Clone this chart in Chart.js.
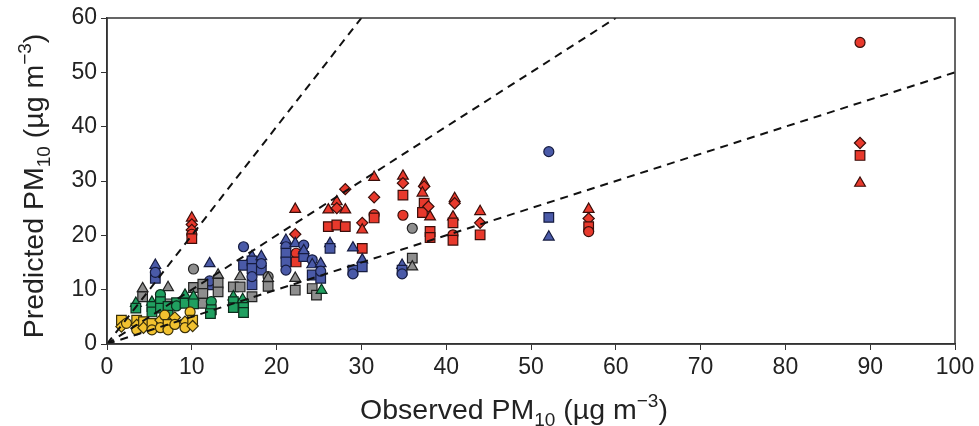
<!DOCTYPE html>
<html>
<head>
<meta charset="utf-8">
<script src="https://cdn.jsdelivr.net/npm/chart.js@4"></script>
<style>
  html, body { margin: 0; padding: 0; background: #fff; }
  #wrap { width: 979px; height: 426px; }
</style>
</head>
<body>
<div id="wrap"><canvas id="chart" width="979" height="426"></canvas></div>
<script>
// shape codes: c = circle, t = triangle, s = square, d = diamond
const redX = [10, 10, 10, 10, 10, 22.2, 22.2, 22.3, 22.3, 26.1, 26.1, 27.1, 27.1, 27.1, 28.1, 28.1, 28.1,
  30.1, 30.1, 30.1, 31.5, 31.5, 31.5, 31.5, 34.9, 34.9, 34.9, 34.9, 37.4, 37.4, 37.2, 37.4, 37.2, 37.9, 38.1,
  38.1, 38.1, 41, 41, 40.8, 40.8, 40.8, 40.8, 44, 44, 44, 56.8, 56.8, 56.8, 56.8, 88.8, 88.8, 88.8, 88.8];
const redY = [23.2, 22.0, 21.0, 20.2, 19.4, 24.8, 20.2, 16.7, 15.1, 24.7, 21.6, 26.2, 25.0, 21.9, 28.5, 24.7, 21.6,
  22.3, 21.0, 17.6, 30.7, 27.0, 23.8, 23.2, 30.9, 29.6, 27.4, 23.7, 29.6, 29.0, 27.8, 25.9, 24.2, 25.3, 23.4,
  20.7, 19.6, 26.8, 25.9, 23.4, 22.3, 20.1, 19.1, 24.4, 22.3, 20.1, 24.8, 23.1, 21.6, 20.7, 55.5, 37.0, 34.7, 29.6];
const redShape = ['t', 'd', 'd', 'c', 's', 't', 'd', 'c', 's', 't', 's', 't', 'd', 's', 'd', 't', 's',
  'd', 't', 's', 't', 'd', 'c', 's', 't', 'd', 's', 'c', 't', 'd', 't', 's', 's', 'd', 't',
  's', 's', 't', 'd', 't', 's', 'c', 's', 't', 'd', 's', 't', 'd', 's', 'c', 'c', 'd', 's', 't'];

const blueX = [5.7, 5.7, 5.7, 12.1, 12.1, 12.1, 16.1, 16.1, 17.1, 17.1, 17.1, 17.1, 17.1, 18.2, 18.2, 18.2,
  21.1, 21.1, 21.1, 21.1, 21.1, 22.2, 23.2, 23.2, 23.2, 24.2, 24.2, 24.2, 25.2, 25.2, 25.2, 26.3, 26.3,
  29.0, 29.0, 29.0, 30.1, 30.1, 34.8, 34.8, 34.8, 52.1, 52.1, 52.1];
const blueY = [14.5, 12.1, 13.2, 14.8, 10.9, 11.6, 17.9, 14.5, 16.1, 15.3, 13.9, 10.9, 12.4, 16.1, 13.6, 14.8,
  19.1, 17.9, 16.7, 15.1, 13.6, 18.5, 18.2, 16.1, 17.2, 15.5, 12.7, 14.6, 14.8, 12.1, 13.4, 18.5, 17.6,
  17.7, 13.6, 12.9, 15.5, 14.2, 14.5, 13.6, 12.9, 35.4, 23.3, 19.7];
const blueShape = ['t', 's', 'c', 't', 's', 'c', 'c', 's', 't', 's', 's', 's', 'c', 't', 's', 'c',
  't', 'c', 's', 's', 'c', 't', 'c', 's', 't', 'c', 's', 't', 't', 's', 'c', 't', 's',
  't', 's', 'c', 't', 's', 't', 's', 'c', 'c', 's', 't'];

const grayX = [4.2, 4.2, 7.2, 7.2, 10.2, 10.2, 11.3, 11.3, 11.3, 13.1, 13.1, 13.1, 14.9, 15.7, 15.7, 17.1,
  19.0, 19.0, 19.0, 22.2, 22.2, 24.2, 24.7, 36.0, 36.0, 36.0];
const grayY = [10.2, 8.7, 10.4, 7.4, 13.8, 10.4, 11.0, 9.3, 7.5, 12.7, 11.2, 9.6, 10.5, 12.4, 10.5, 8.7,
  12.4, 12.1, 10.6, 12.1, 9.9, 10.2, 9.0, 21.3, 15.8, 14.2];
const grayShape = ['t', 's', 't', 's', 'c', 's', 's', 's', 's', 't', 's', 's', 's', 't', 's', 's',
  'c', 't', 's', 't', 's', 's', 's', 'c', 's', 't'];

const greenX = [3.4, 3.4, 5.3, 5.3, 5.3, 6.3, 6.3, 6.3, 7.2, 7.2, 8.2, 8.2, 9.2, 9.2, 10.2, 10.2,
  12.3, 12.3, 12.2, 14.9, 14.9, 14.9, 16.1, 16.1, 16.0, 25.3];
const greenY = [7.5, 6.6, 7.7, 6.9, 5.9, 9.1, 7.8, 6.6, 6.9, 5.3, 7.6, 7.0, 9.0, 7.5, 8.7, 7.4,
  7.8, 6.3, 5.6, 8.7, 7.8, 6.7, 7.4, 5.8, 8.2, 9.9];
const greenShape = ['t', 's', 't', 's', 's', 'c', 's', 's', 's', 's', 's', 'c', 't', 's', 't', 's',
  'c', 's', 's', 't', 's', 's', 's', 's', 't', 't'];

const yellowX = [1.7, 1.7, 2.3, 3.5, 3.5, 3.5, 4.3, 4.3, 5.3, 5.3, 6.3, 6.3, 6.8, 7.2, 7.2, 8.0, 8.0,
  9.2, 9.2, 9.8, 10.1, 10.1];
const yellowY = [4.4, 3.2, 3.8, 4.4, 3.5, 2.6, 4.1, 3.0, 3.8, 2.6, 4.4, 3.0, 5.3, 3.6, 2.6, 4.9, 3.6,
  4.1, 3.0, 5.9, 4.4, 3.3];
const yellowShape = ['s', 'd', 'c', 's', 'd', 'c', 's', 'd', 's', 'c', 'd', 'c', 'c', 's', 'c', 'd', 'c',
  'd', 'c', 'c', 's', 'd'];

// reference ratio lines 2:1, 1:1, 1:2 (start and end points)
const ratioLines = [
  [[0, 0], [30, 60]],
  [[0, 0], [60, 60]],
  [[0, 0], [100, 50]]
];

const xTicks = [0, 10, 20, 30, 40, 50, 60, 70, 80, 90, 100];
const yTicks = [0, 10, 20, 30, 40, 50, 60];

const styleOf = { c: 'circle', t: 'triangle', s: 'rect', d: 'rectRot' };
const radiusOf = { c: 5, t: 6.2, s: 6.8, d: 5.6 };

function makeSet(xs, ys, shapes, fill, edge) {
  return {
    type: 'scatter',
    data: xs.map((x, i) => ({ x: x, y: ys[i] })),
    pointStyle: shapes.map(s => styleOf[s]),
    pointRadius: shapes.map(s => radiusOf[s]),
    backgroundColor: fill,
    borderColor: edge,
    borderWidth: 1.2,
    order: 1
  };
}

const datasets = [
  makeSet(yellowX, yellowY, yellowShape, '#f2c230', '#3a300a'),
  makeSet(greenX, greenY, greenShape, '#20a060', '#0c2c1c'),
  makeSet(grayX, grayY, grayShape, '#8e8e8e', '#222222'),
  makeSet(blueX, blueY, blueShape, '#4a5aa8', '#161c40'),
  makeSet(redX, redY, redShape, '#e8392c', '#3a0e0a')
];
ratioLines.forEach(line => {
  datasets.push({
    type: 'line',
    data: line.map(p => ({ x: p[0], y: p[1] })),
    borderColor: '#111',
    borderWidth: 2,
    borderDash: [8, 6],
    pointRadius: 0,
    fill: false,
    order: 0
  });
});

// axis titles with real sub/superscripts
function drawRich(ctx, parts, size) {
  const small = Math.round(size * 0.68);
  let total = 0;
  parts.forEach(p => {
    ctx.font = (p.sub || p.sup ? small : size) + 'px "Liberation Sans", Arial, sans-serif';
    p.w = ctx.measureText(p.t).width;
    total += p.w;
  });
  let x = -total / 2;
  parts.forEach(p => {
    ctx.font = (p.sub || p.sup ? small : size) + 'px "Liberation Sans", Arial, sans-serif';
    let dy = 0;
    if (p.sub) dy = size * 0.25;
    if (p.sup) dy = -size * 0.42;
    ctx.fillText(p.t, x, dy);
    x += p.w;
  });
}

const framePlugin = {
  id: 'frame',
  afterDraw(chart) {
    const ctx = chart.ctx;
    const a = chart.chartArea;
    ctx.save();
    ctx.strokeStyle = '#333';
    ctx.lineWidth = 1.5;
    ctx.strokeRect(a.left, a.top, a.right - a.left, a.bottom - a.top);
    ctx.fillStyle = '#222';
    ctx.textBaseline = 'alphabetic';
    ctx.textAlign = 'left';

    ctx.save();
    ctx.translate(514, 419);
    drawRich(ctx, [{ t: 'Observed PM' }, { t: '10', sub: true }, { t: ' (\u00b5g m' }, { t: '\u22123', sup: true }, { t: ')' }], 28.5);
    ctx.restore();

    ctx.save();
    ctx.translate(43, 186);
    ctx.rotate(-Math.PI / 2);
    drawRich(ctx, [{ t: 'Predicted PM' }, { t: '10', sub: true }, { t: ' (\u00b5g m' }, { t: '\u22123', sup: true }, { t: ')' }], 28.5);
    ctx.restore();
    ctx.restore();
  }
};

const tickFont = { family: '"Liberation Sans", Arial, sans-serif', size: 23 };

new Chart(document.getElementById('chart'), {
  type: 'scatter',
  data: { datasets: datasets },
  options: {
    responsive: false,
    animation: false,
    layout: { padding: { top: 18, right: 24, bottom: 0, left: 0 } },
    plugins: { legend: { display: false }, tooltip: { enabled: false } },
    scales: {
      x: {
        type: 'linear',
        min: 0, max: 100,
        afterFit: s => { s.height = 82; },
        afterBuildTicks: s => { s.ticks = xTicks.map(v => ({ value: v })); },
        ticks: { color: '#222', font: tickFont, padding: 4, maxRotation: 0 },
        grid: { drawOnChartArea: false, drawTicks: true, tickLength: 6, color: '#333' },
        border: { color: '#333', width: 1.5 }
      },
      y: {
        type: 'linear',
        min: 0, max: 60,
        afterFit: s => { s.width = 107; },
        afterBuildTicks: s => { s.ticks = yTicks.map(v => ({ value: v })); },
        ticks: { color: '#222', font: tickFont, padding: 4 },
        grid: { drawOnChartArea: false, drawTicks: true, tickLength: 6, color: '#333' },
        border: { color: '#333', width: 1.5 }
      }
    }
  },
  plugins: [framePlugin]
});
</script>
</body>
</html>
